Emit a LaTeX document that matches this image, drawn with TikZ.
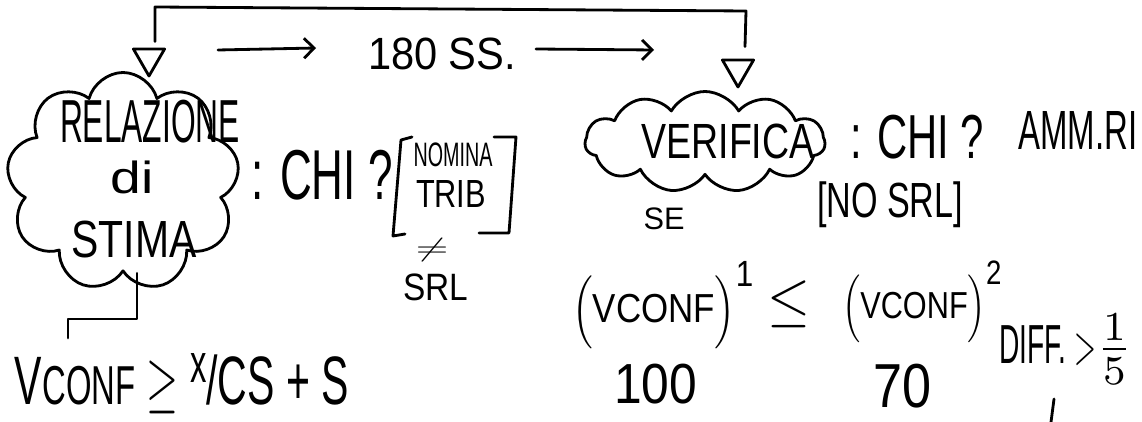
\documentclass[tikz,border=0pt]{standalone}
\usepackage{fontspec}
\setmainfont{Liberation Sans}
\usepackage{graphicx}
\usetikzlibrary{shapes.geometric,shapes.symbols,arrows.meta}
\newcommand{\inkcolor}{black}
\newcommand{\pen}{1.6pt}
\newcommand{\scrawl}[3]{\resizebox*{#1}{#2}{#3}}
\tikzset{
  ink/.style={draw=\inkcolor, line width=\pen, line cap=round, line join=round},
  word/.style={inner sep=0pt, text=\inkcolor},
  bubble/.style={ink, cloud, inner sep=0pt},
  wedge/.style={ink, regular polygon, regular polygon sides=3, shape border rotate=180, minimum size=0.72cm, inner sep=0pt},
  arr/.style={ink, -{Straight Barb[length=0.2cm,width=0.4cm]}}
}

\begin{document}
\begin{tikzpicture}
\useasboundingbox (0.0, 0.0) rectangle (22.84, -8.44);
%top
\node[wedge] (tl) at (2.98, -1.16) {};
\node[wedge] (tr) at (14.76, -1.38) {};
\coordinate (topl) at (3.10, -0.14);
\coordinate (topr) at (14.92, -0.22);
\draw[ink] ([shift={(0.12,0.12)}]tl.north) -- (topl) -- (topr) -- ([shift={(0.14,0.24)}]tr.north);
\coordinate (a1) at (4.36, -1.00);
\coordinate (b1) at (6.32, -0.96);
\coordinate (a2) at (10.72, -0.98);
\coordinate (b2) at (13.08, -1.00);
\node[word] (ss) at (8.84, -1.08) {\scrawl{2.96cm}{0.64cm}{180 SS.}};
\draw[arr] (a1) -- (b1);
\draw[arr] (a2) -- (b2);
%relazione
\node[bubble, cloud ignores aspect, cloud puffs=9, minimum width=4.66cm, minimum height=4.38cm] (rel) at (2.46, -3.64) {};
\node[word] (rel1) at (3.00, -2.44) {\scrawl{3.6cm}{0.86cm}{RELAZIONE}};
\node[word] (rel2) at (2.64, -3.54) {\scrawl{0.86cm}{0.66cm}{di}};
\node[word] (rel3) at (2.68, -4.80) {\scrawl{2.5cm}{0.74cm}{STIMA}};
\coordinate (vc) at (1.36, -6.76);
\draw[ink] ([xshift=0.28cm]rel.south) |- ([yshift=0.38cm]vc) -- (vc);
\node[word] (chi1) at (6.44, -3.50) {\scrawl{2.82cm}{1.0cm}{: CHI ?}};
\draw[ink] (8.24, -2.74) -- (8.02, -2.80) -- (7.86, -4.72) -- (8.10, -4.68);
\draw[ink] (9.88, -2.74) -- (10.32, -2.74) -- (10.18, -4.66) -- (9.58, -4.66);
\node[word] (nom) at (9.06, -3.10) {\scrawl{1.58cm}{0.48cm}{NOMINA}};
\node[word] (trib) at (9.02, -3.88) {\scrawl{1.4cm}{0.54cm}{TRIB}};
\node[word] (neq) at (8.64, -5.00) {\scrawl{0.66cm}{0.46cm}{$\neq$}};
\node[word] (srl) at (8.72, -5.74) {\scrawl{1.3cm}{0.54cm}{SRL}};
\node[word] (vconf) at (3.64, -7.68) {\scrawl{6.68cm}{1.2cm}{V{\footnotesize CONF} $\geq$ \raisebox{0.6ex}{\footnotesize x}/CS + S}};
%verifica
\node[bubble, aspect=2.4, cloud puffs=11, cloud puff arc=120, minimum width=4.8cm, minimum height=2.02cm] (ver) at (14.10, -2.84) {};
\node[word] (ver1) at (14.56, -2.82) {\scrawl{3.46cm}{0.70cm}{VERIFICA}};
\node[word] (chi2) at (18.34, -2.74) {\scrawl{2.68cm}{0.88cm}{: CHI ?}};
\node[word] (amm) at (21.56, -2.62) {\scrawl{2.38cm}{0.76cm}{AMM.RI}};
\node[word] (se) at (13.28, -4.38) {\scrawl{0.82cm}{0.44cm}{SE}};
\node[word] (nosrl) at (17.80, -4.10) {\scrawl{2.92cm}{0.92cm}{[NO SRL]}};
\node[word] (lhs) at (13.27, -6.10) {\scrawl{3.66cm}{1.76cm}{$\Bigl(\mbox{VCONF}\Bigr)^{\mbox{\small 1}}$}};
\node[word] (leq) at (15.77, -6.09) {\scrawl{0.86cm}{0.94cm}{$\leq$}};
\node[word] (rhs) at (18.45, -6.04) {\scrawl{3.22cm}{1.64cm}{$\Bigl(\mbox{VCONF}\Bigr)^{\mbox{\small 2}}$}};
\node[word] (n100) at (13.11, -7.68) {\scrawl{1.66cm}{0.80cm}{100}};
\node[word] (n70) at (18.04, -7.72) {\scrawl{1.16cm}{0.88cm}{70}};
\node[word] (diff) at (20.95, -6.92) {\scrawl{1.94cm}{0.8cm}{DIFF. $>$}};
\node[word] (frac) at (22.29, -6.98) {\scrawl{0.74cm}{1.4cm}{$\frac{1}{5}$}};
\coordinate (s1) at (21.08, -7.98);
\coordinate (s2) at (21.02, -8.44);
\draw[ink] (s1) -- (s2);
\end{tikzpicture}
\end{document}
